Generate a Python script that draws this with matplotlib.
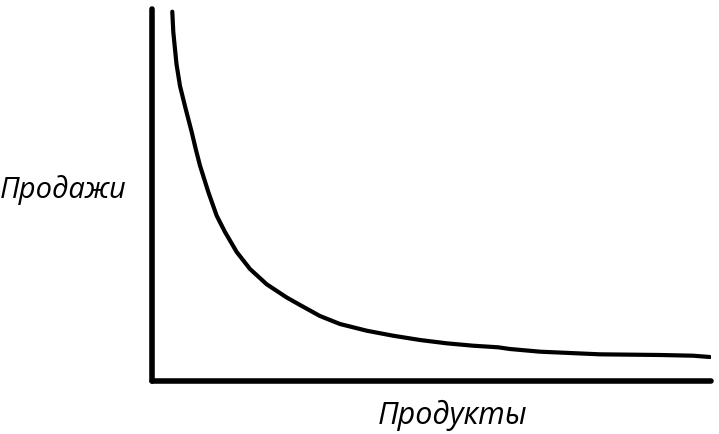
import numpy as np
import matplotlib.pyplot as plt

# long tail: sales by product (axes scaled 0..100)
products = [3.63, 3.81, 4.38, 5.01, 6.03, 7.10, 7.82, 8.59, 10.07, 11.57, 13.06,
            15.15, 17.53, 20.52, 24.10, 26.48, 30.05, 33.63, 38.41, 43.11, 47.94,
            52.72, 57.42, 61.90, 64.04, 69.41, 80.14, 90.88, 96.78, 99.82]
sales = [99.27, 93.82, 85.2, 79.30, 73.12, 66.94, 62.37, 57.88, 50.81, 44.44, 40.05,
         34.68, 30.11, 26.0, 22.45, 20.43, 17.47, 15.32, 13.52, 12.18, 11.02,
         10.13, 9.49, 9.06, 8.60, 7.88, 7.17, 6.99, 6.80, 6.45]

x_label = 'Продукты'
y_label = 'Продажи'

fig = plt.figure(figsize=(7.19, 4.35), dpi=100)
ax = fig.add_axes([152/719, 53/435, 559/719, 372/435])

ax.plot(products, sales, color='black', lw=3, solid_capstyle='round',
        solid_joinstyle='round')

ax.set_xlim(0, 100)
ax.set_ylim(0, 100)
for s in ['top', 'right']:
    ax.spines[s].set_visible(False)
for s in ['left', 'bottom']:
    ax.spines[s].set_linewidth(4)
    ax.spines[s].set_capstyle('round')
ax.set_xticks([])
ax.set_yticks([])

fig.text(0.0, 1 - 190/435, y_label, fontsize=21, family='Open Sans', style='italic',
         ha='left', va='center')
fig.text(453/719, 1 - 415/435, x_label, fontsize=22, family='Open Sans', style='italic',
         ha='center', va='center')

fig.savefig('out.png', dpi=100)
